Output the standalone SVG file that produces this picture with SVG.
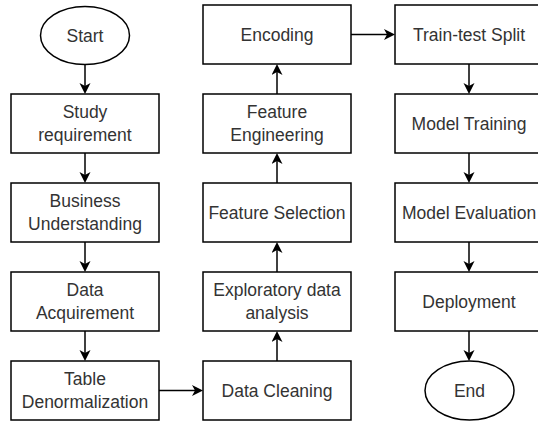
<svg xmlns="http://www.w3.org/2000/svg" width="538" height="421" viewBox="0 0 538 421">
  <defs>
    <marker id="arr" markerUnits="userSpaceOnUse" markerWidth="13" markerHeight="13" viewBox="0 0 13 13" refX="8" refY="5.5" orient="auto">
      <path d="M0,0 L11,5.5 L0,11 L3,5.5 Z" fill="#000"/>
    </marker>
  </defs>
  <style>
    .box { fill: #fff; stroke: #000; stroke-width: 1.5; }
    .lbl { font-family: "Liberation Sans", Arial, sans-serif; font-size: 17.5px; fill: #333; text-anchor: middle; }
    .edge { fill: none; stroke: #000; stroke-width: 1.5; marker-end: url(#arr); }
  </style>
  <rect width="538" height="421" fill="#fff"/>

  <g id="connectors">
    <path class="edge" d="M85,64.5 L85,91"/>
    <path class="edge" d="M85,153 L85,180"/>
    <path class="edge" d="M85,242 L85,269"/>
    <path class="edge" d="M85,331 L85,358"/>
    <path class="edge" d="M159,390.5 L200,390.5"/>
    <path class="edge" d="M277,361 L277,334"/>
    <path class="edge" d="M277,272 L277,245"/>
    <path class="edge" d="M277,183 L277,156"/>
    <path class="edge" d="M277,94 L277,67"/>
    <path class="edge" d="M351,34.5 L392,34.5"/>
    <path class="edge" d="M469,64 L469,91"/>
    <path class="edge" d="M469,153 L469,180"/>
    <path class="edge" d="M469,242 L469,269"/>
    <path class="edge" d="M469,331 L469,358"/>
  </g>

  <g id="start">
    <ellipse class="box" cx="85" cy="35.5" rx="44.5" ry="29"/>
    <text class="lbl" x="85" y="41.5">Start</text>
  </g>
  <g id="study">
    <rect class="box" x="11" y="94" width="148" height="59"/>
    <text class="lbl" x="85" y="118">Study</text>
    <text class="lbl" x="85" y="141">requirement</text>
  </g>
  <g id="business">
    <rect class="box" x="11" y="183" width="148" height="59"/>
    <text class="lbl" x="85" y="207">Business</text>
    <text class="lbl" x="85" y="230">Understanding</text>
  </g>
  <g id="acquire">
    <rect class="box" x="11" y="272" width="148" height="59"/>
    <text class="lbl" x="85" y="296">Data</text>
    <text class="lbl" x="85" y="319">Acquirement</text>
  </g>
  <g id="denorm">
    <rect class="box" x="11" y="361" width="148" height="59"/>
    <text class="lbl" x="85" y="385">Table</text>
    <text class="lbl" x="85" y="408">Denormalization</text>
  </g>

  <g id="cleaning">
    <rect class="box" x="203" y="361" width="148" height="59"/>
    <text class="lbl" x="277" y="396.5">Data Cleaning</text>
  </g>
  <g id="eda">
    <rect class="box" x="203" y="272" width="148" height="59"/>
    <text class="lbl" x="277" y="296">Exploratory data</text>
    <text class="lbl" x="277" y="319">analysis</text>
  </g>
  <g id="selection">
    <rect class="box" x="203" y="183" width="148" height="59"/>
    <text class="lbl" x="277" y="218.5">Feature Selection</text>
  </g>
  <g id="engineering">
    <rect class="box" x="203" y="94" width="148" height="59"/>
    <text class="lbl" x="277" y="118">Feature</text>
    <text class="lbl" x="277" y="141">Engineering</text>
  </g>
  <g id="encoding">
    <rect class="box" x="203" y="5" width="148" height="59"/>
    <text class="lbl" x="277" y="40.5">Encoding</text>
  </g>

  <g id="split">
    <rect class="box" x="395" y="5" width="148" height="59"/>
    <text class="lbl" x="469" y="40.5">Train-test Split</text>
  </g>
  <g id="training">
    <rect class="box" x="395" y="94" width="148" height="59"/>
    <text class="lbl" x="469" y="129.5">Model Training</text>
  </g>
  <g id="evaluation">
    <rect class="box" x="395" y="183" width="148" height="59"/>
    <text class="lbl" x="469" y="218.5">Model Evaluation</text>
  </g>
  <g id="deployment">
    <rect class="box" x="395" y="272" width="148" height="59"/>
    <text class="lbl" x="469" y="307.5">Deployment</text>
  </g>
  <g id="end">
    <ellipse class="box" cx="469.5" cy="390.5" rx="44.5" ry="29.5"/>
    <text class="lbl" x="469.5" y="396.5">End</text>
  </g>
</svg>
